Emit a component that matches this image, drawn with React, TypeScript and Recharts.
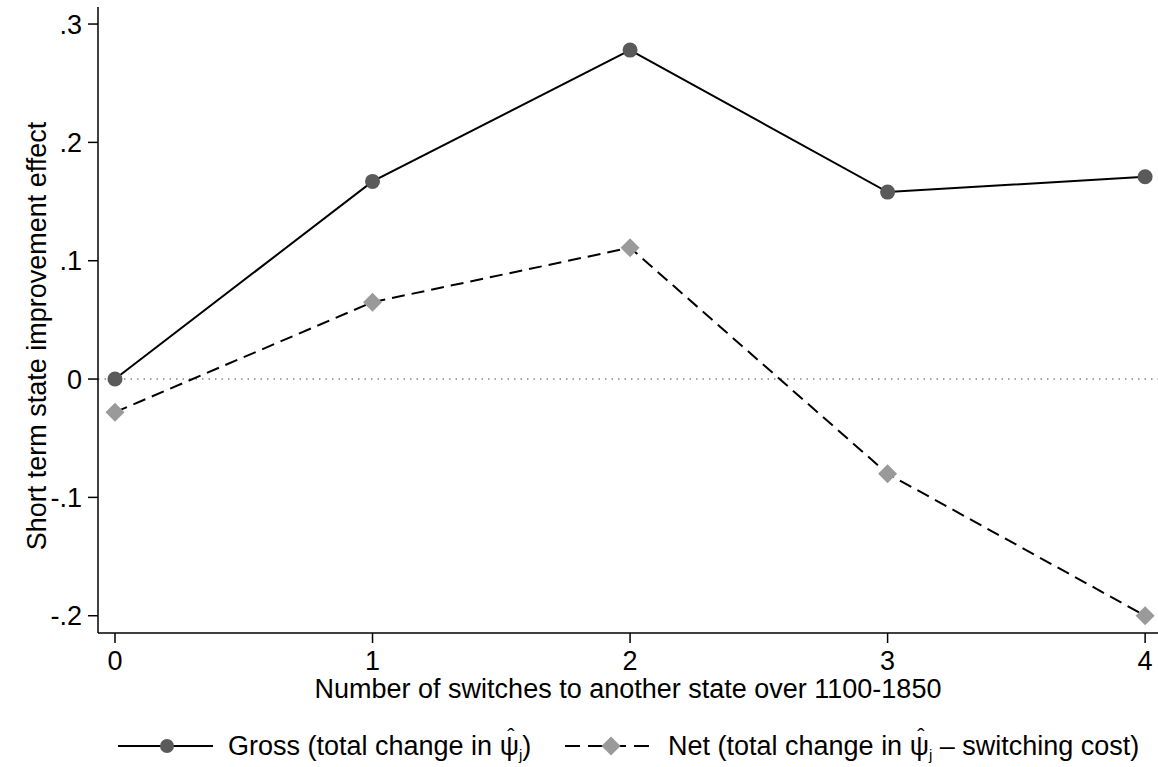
import {
  LineChart,
  Line,
  XAxis,
  YAxis,
  ReferenceLine,
} from "recharts";

const switches = [0, 1, 2, 3, 4];
const gross = [0, 0.167, 0.278, 0.158, 0.171];
const net = [-0.028, 0.065, 0.111, -0.08, -0.2];
const yTicks = [-0.2, -0.1, 0, 0.1, 0.2, 0.3];

const data = switches.map((s, i) => ({ s, gross: gross[i], net: net[i] }));

const FONT = "'Liberation Sans', Arial, Helvetica, sans-serif";
const FS = 27;

const fmt = (v: number) => {
  if (v === 0) return "0";
  const r = Math.round(v * 10) / 10;
  return r < 0 ? "-" + String(-r).replace("0.", ".") : String(r).replace("0.", ".");
};

const Dot = (props: any) => {
  const { cx, cy } = props;
  if (cx == null || cy == null) return null;
  return <circle cx={cx} cy={cy} r={7.5} fill="#5a5a5a" />;
};

const Diamond = (props: any) => {
  const { cx, cy } = props;
  if (cx == null || cy == null) return null;
  const d = 9.5;
  return (
    <polygon
      points={`${cx},${cy - d} ${cx + d},${cy} ${cx},${cy + d} ${cx - d},${cy}`}
      fill="#9a9a9a"
    />
  );
};

// psi with a hat and subscript j
const PsiHat = () => (
  <span style={{ position: "relative", display: "inline-block" }}>
    ψ
    <span
      style={{
        position: "absolute",
        left: 0,
        right: 0,
        top: -7,
        textAlign: "center",
        fontSize: 22,
      }}
    >
      ˆ
    </span>
    <sub style={{ fontSize: 15, verticalAlign: -5 }}>j</sub>
  </span>
);

export default function App() {
  return (
    <div
      style={{
        position: "absolute",
        left: 0,
        top: 0,
        width: 1158,
        height: 767,
        background: "#fff",
        fontFamily: FONT,
      }}
    >
      <LineChart
        width={1158}
        height={767}
        data={data}
        margin={{ top: 7, right: 0, bottom: 54, left: 0 }}
      >
        <XAxis
          dataKey="s"
          type="number"
          domain={[-0.066, 4.05]}
          ticks={switches}
          allowDataOverflow
          height={80}
          stroke="#000"
          strokeWidth={1.5}
          tickSize={10}
          tickMargin={8}
          tick={{ fill: "#000", fontSize: FS, fontFamily: FONT }}
          label={{
            value: "Number of switches to another state over 1100-1850",
            position: "insideBottom",
            offset: 15,
            fill: "#000",
            fontSize: FS,
            fontFamily: FONT,
          }}
        />
        <YAxis
          type="number"
          domain={[-0.2146, 0.3144]}
          ticks={yTicks}
          allowDataOverflow
          width={98}
          stroke="#000"
          strokeWidth={1.5}
          tickSize={10}
          tickMargin={6}
          tickFormatter={fmt}
          tick={{ fill: "#000", fontSize: FS, fontFamily: FONT }}
          label={{
            content: () => (
              <text
                x={37}
                y={336}
                transform="rotate(-90 37 336)"
                textAnchor="middle"
                dominantBaseline="central"
                fill="#000"
                fontSize={FS}
                fontFamily={FONT}
              >
                Short term state improvement effect
              </text>
            ),
          }}
        />
        <ReferenceLine y={0} stroke="#888" strokeDasharray="1.5 5" strokeWidth={1.5} />
        <Line
          dataKey="gross"
          stroke="#000"
          strokeWidth={2}
          dot={<Dot />}
          activeDot={false}
          isAnimationActive={false}
        />
        <Line
          dataKey="net"
          stroke="#000"
          strokeWidth={2}
          strokeDasharray="13 7"
          dot={<Diamond />}
          activeDot={false}
          isAnimationActive={false}
        />
      </LineChart>
      <svg
        width={1158}
        height={50}
        style={{ position: "absolute", left: 0, top: 717 }}
      >
        <line x1={118} y1={29} x2={213} y2={29} stroke="#000" strokeWidth={2} />
        <circle cx={167} cy={29} r={7} fill="#5a5a5a" />
        <line
          x1={565}
          y1={29}
          x2={657}
          y2={29}
          stroke="#000"
          strokeWidth={2}
          strokeDasharray="15 8"
        />
        <polygon points="611,19.5 620.5,29 611,38.5 601.5,29" fill="#9a9a9a" />
      </svg>
      <div
        style={{
          position: "absolute",
          left: 228,
          top: 731,
          fontSize: FS,
          lineHeight: "normal",
          whiteSpace: "nowrap",
          color: "#000",
        }}
      >
        Gross (total change in <PsiHat />)
      </div>
      <div
        style={{
          position: "absolute",
          left: 668,
          top: 731,
          fontSize: FS,
          lineHeight: "normal",
          whiteSpace: "nowrap",
          color: "#000",
        }}
      >
        Net (total change in <PsiHat /> – switching cost)
      </div>
    </div>
  );
}
